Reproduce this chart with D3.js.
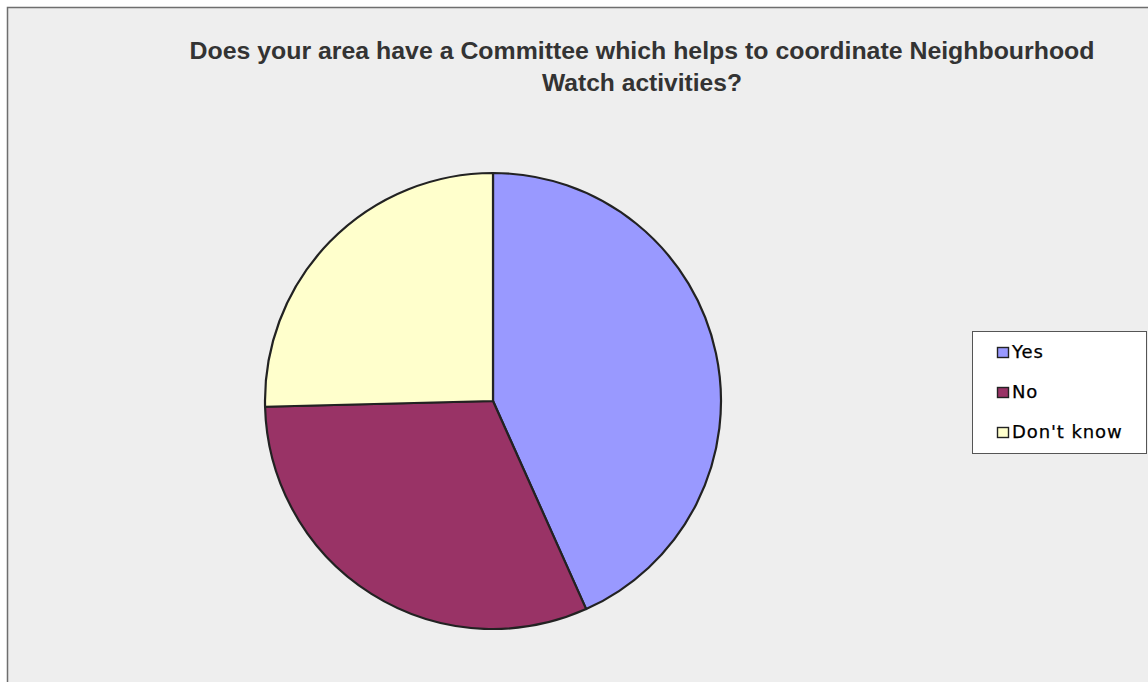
<html>
    <head>
        <script src="https://d3js.org/d3.v7.min.js"></script>
        <style>
            body { margin: 0; background: #ffffff; }
        </style>
    </head>
    <body>
        <svg id="svg" width="1148" height="682"></svg>
        <script>
            var categories = ["Yes", "No", "Don't know"];
            var values = [43.3, 31.3, 25.4];
            var colours = ["#9999ff", "#993366", "#ffffcc"];
            var titleLines = ["Does your area have a Committee which helps to coordinate Neighbourhood", "Watch activities?"];

            var svg = d3.select("svg");
            var width = +svg.attr("width");
            var height = +svg.attr("height");

            // chart area frame (right and bottom edges fall off the picture)
            svg.append("rect")
                .attr("x", 7.5).attr("y", 7.5)
                .attr("width", width + 10).attr("height", height + 10)
                .attr("fill", "#eeeeee")
                .attr("stroke", "#6e6e6e")
                .attr("stroke-width", 1.5);

            // title
            var title = svg.append("g")
                .attr("font-family", "'Liberation Sans', Arial, sans-serif")
                .attr("font-weight", "bold")
                .attr("font-size", 24)
                .attr("fill", "#333333")
                .attr("text-anchor", "middle");
            var titleWidths = [905, 200];
            title.selectAll("text").data(titleLines).enter().append("text")
                .attr("x", 642)
                .attr("y", function(d, i){ return 59 + i*32; })
                .attr("textLength", function(d, i){ return titleWidths[i]; })
                .attr("lengthAdjust", "spacingAndGlyphs")
                .text(function(d){ return d; });

            // pie
            var centX = 493;
            var centY = 401;
            var radius = 228;

            var pie = d3.pie().sort(null).value(function(d){ return d; });
            var arc = d3.arc().innerRadius(0).outerRadius(radius);
            var colour = d3.scaleOrdinal().domain(categories).range(colours);

            var group = svg.append("g").attr("transform", "translate(" + centX + "," + centY + ")");
            group.selectAll("path").data(pie(values)).enter().append("path")
                .attr("d", arc)
                .attr("fill", function(d, i){ return colour(categories[i]); })
                .attr("stroke", "#222222")
                .attr("stroke-width", 2.2)
                .attr("stroke-linejoin", "round");

            // legend
            var legend = svg.append("g");
            legend.append("rect")
                .attr("x", 972.5).attr("y", 331.5)
                .attr("width", 174).attr("height", 122)
                .attr("fill", "#ffffff")
                .attr("stroke", "#555555")
                .attr("stroke-width", 1);

            var items = legend.selectAll("g.item").data(categories).enter().append("g")
                .attr("class", "item")
                .attr("transform", function(d, i){ return "translate(0," + (i*40) + ")"; });
            items.append("rect")
                .attr("x", 997.5).attr("y", 347.5)
                .attr("width", 11).attr("height", 10)
                .attr("fill", function(d){ return colour(d); })
                .attr("stroke", "#222222")
                .attr("stroke-width", 1.4);
            items.append("text")
                .attr("x", 1012)
                .attr("y", 358)
                .attr("font-family", "'DejaVu Sans', Verdana, sans-serif")
                .attr("font-size", 18)
                .attr("letter-spacing", 0.9)
                .attr("fill", "#000000")
                .attr("stroke", "#000000")
                .attr("stroke-width", 0.25)
                .text(function(d){ return d; });
        </script>
    </body>
</html>
